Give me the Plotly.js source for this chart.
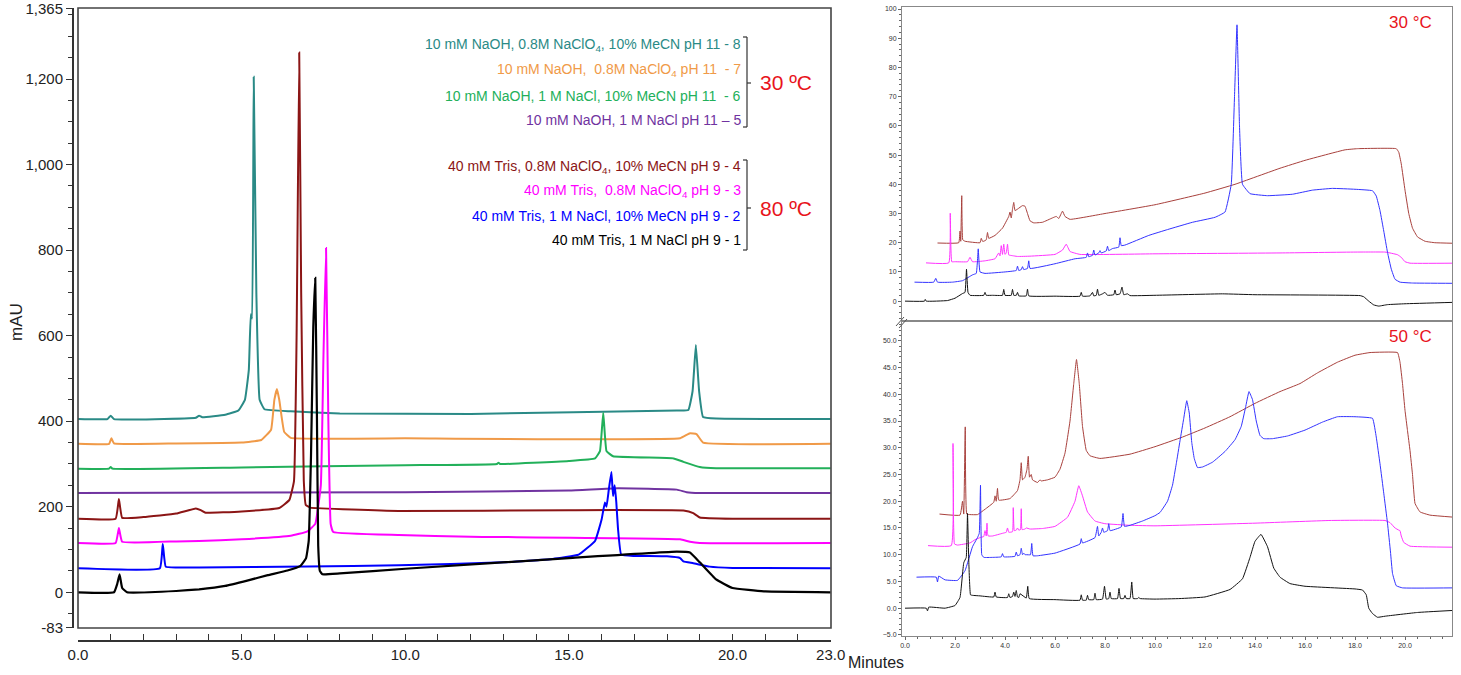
<!DOCTYPE html>
<html><head><meta charset="utf-8">
<script src="https://cdn.plot.ly/plotly-3.0.1.min.js"></script>
<style>html,body{margin:0;padding:0;background:#fff}#chart{width:1461px;height:675px}</style>
</head><body><div id="chart"></div>
<script>
// ---------- LEFT PANEL DATA (Minutes, mAU) ----------
const L1x=[0,1.1,1.2,1.27,1.35,1.5,3.0,3.7,4.5,5.2,5.8,6.4,6.8,6.97,7.05,7.12,7.19,7.25,7.3,7.34,7.39,7.47,8,10,15,18.3,18.7,19.0,19.5,20.0,21,23];
const L1y=[0,0,20,42,10,0,3,7,15,28,40,51,62,80,120,320,620,735,420,110,50,42,44,55,80,95,93,70,30,10,2,0];
const L2x=[0,2.5,2.59,2.68,3.0,3.7,7,9.8,13,14.5,15.3,15.8,16.0,16.1,16.15,16.22,16.3,16.35,16.4,16.45,16.5,16.6,17,18,18.4,18.5,18.8,19.3,20,23];
const L2y=[56,56,113,60,58,58,60,63,70,78,88,120,170,210,200,240,281,225,250,210,150,88,85,84,80,72,68,60,57,56];
const L3x=[0,1.15,1.25,1.35,3,3.7,5,6.5,7.0,7.25,7.42,7.5,7.58,7.65,7.72,7.8,9.8,12,18.4,18.7,19.0,23];
const L3y=[115,115,150,118,119,120,124,132,142,160,250,550,805,400,160,141,134,130,124,118,115,115];
const L4x=[0,1.15,1.25,1.35,2.0,3.0,3.6,3.75,3.9,5.0,6.15,6.46,6.6,6.68,6.76,6.82,6.9,6.96,7.1,9.8,15,18.5,18.8,19.0,20,23];
const L4y=[172,172,218,174,176,184,196,192,186,189,197,216,260,600,1262,700,260,204,198,190,192,191,185,175,172,172];
const L5x=[0,10,15,16.5,18.3,18.6,19,23];
const L5y=[232,234,238,243,240,234,232,232];
const L6x=[0,0.95,1.0,1.05,5,10,12.8,12.85,12.9,15,15.8,15.95,16.05,16.15,16.35,18.2,18.5,19.0,19.5,23];
const L6y=[289,289,293,289,292,297,300,303,300,307,313,330,420,330,318,313,305,293,290,290];
const L7x=[0,0.95,1.02,1.1,3.0,5.0,5.6,5.9,6.0,6.08,6.15,6.3,6.5,10,18.4,18.7,18.9,19.1,23];
const L7y=[347,347,360,348,348,350,356,380,450,475,450,375,361,360,360,372,370,350,347];
const L8x=[0,0.9,1.0,1.1,3.6,3.7,3.8,4.5,4.9,5.1,5.22,5.28,5.32,5.37,5.45,5.55,5.7,6.5,8,12,18.3,18.65,18.78,18.88,18.98,19.1,19.5,23];
const L8y=[405,405,413,405,408,413,409,415,425,450,520,650,640,1205,700,450,428,423,418,417,425,426,470,578,470,410,406,405];

// ---------- RIGHT TOP (30 °C) ----------
const T1x=[0,0.78,0.81,0.85,1.7,2.0,2.3,2.4,2.46,2.52,2.6,3.15,3.2,3.25,3.5,3.9,3.95,4.0,4.25,4.3,4.35,4.45,4.5,4.55,4.85,4.9,4.95,6.0,7.0,7.05,7.1,7.4,7.5,7.55,7.65,7.7,7.75,7.9,8.0,8.1,8.35,8.4,8.45,8.6,8.68,8.75,8.9,9.0,10,12.7,14,18.2,18.35,18.55,18.75,18.95,19.3,20,22];
const T1y=[0,0,0.6,0,0.2,1.0,2.6,3,10.9,3,2.0,2.0,3.0,2.0,2.0,2.0,4.0,2.0,2.0,4.0,2.0,2.0,3.0,1.8,1.8,4.1,1.8,1.7,1.7,3.0,1.7,1.8,3.0,1.8,2.0,4.1,2.0,2.5,3.0,2.0,2.2,3.8,2.2,2.5,4.8,2.2,2.5,1.9,2.0,2.5,2.2,1.9,1.5,0,-1.3,-1.7,-1.2,-0.9,-0.4];
const T2x=[0.38,1.15,1.23,1.3,1.9,2.3,2.7,2.85,2.93,3.0,3.2,4.0,4.45,4.5,4.55,4.65,4.7,4.75,4.9,4.95,5.0,6.0,6.8,7.25,7.3,7.35,7.5,7.55,7.6,7.75,7.8,7.85,8.05,8.1,8.15,8.3,8.55,8.6,8.65,8.8,9.75,10.5,11.5,12.4,12.8,13.05,13.18,13.28,13.38,13.5,13.8,14.5,15.5,16.3,17.1,18.0,18.7,18.85,19.0,19.15,19.3,19.45,19.6,19.8,20.3,22];
const T2y=[6.5,6.5,7.8,6.5,6.5,7.0,9.0,9.5,17.9,10,9.5,10.0,10.5,12,10.5,10.8,11.8,10.8,11.2,13.8,11.2,12.8,14.5,15.0,16.5,15.2,15.7,17.5,15.8,16.5,17.3,16.5,17.2,18.8,17.3,18.0,18.5,21.7,19.0,19.2,22.5,24.5,27.0,28.7,30.5,40,70,94.6,60,40,36.8,36.1,36.6,38.0,38.6,38.3,37.8,36,31,24,16.7,11,7.5,6.5,6.2,6.1];
const T3x=[0.84,1.75,1.81,1.87,2.0,2.5,2.6,2.7,3.2,3.6,3.75,3.8,3.85,3.9,3.95,4.0,4.05,4.1,4.15,4.2,4.5,5.0,6.0,6.3,6.45,6.6,7.0,10,15,18,19.2,19.4,19.7,19.85,20.0,20.2,22];
const T3y=[13.1,13.1,30.1,13.5,13.5,13.5,15.0,13.5,13.8,14.5,16.5,15.5,19.0,16.0,19.5,16.0,16.5,19.5,15.8,15.7,15.3,15.4,16.0,17.5,19.5,17.0,16.0,16.2,16.5,16.8,16.8,16.5,15.9,15.0,13.5,13.0,13.0];
const T4x=[1.3,2.15,2.2,2.23,2.27,2.31,2.4,3.0,3.05,3.1,3.15,3.25,3.3,3.35,3.6,3.9,4.15,4.2,4.25,4.3,4.35,4.4,4.5,4.7,4.8,4.9,5.0,5.15,5.5,5.9,6.05,6.15,6.3,6.4,6.6,8,10,12,13.2,15,16,17,17.6,18.1,19.65,19.75,19.85,20.0,20.15,20.3,20.5,20.8,21.2,22];
const T4y=[19.9,20,24,20.5,36.1,21,20.5,20.0,21.5,20.5,20.5,21,23.5,21.5,22.5,25,29,30.5,28.5,31.5,33.8,31,31.5,32.7,32.5,30,27.5,26.8,27,28.5,29,28.3,30.8,29,28,30,33,37,40,45.5,48.2,50.5,51.8,52.2,52.2,51,47,38,30,25,22,20.5,20,19.8];

// ---------- RIGHT BOTTOM (50 °C) ----------
const B1x=[0,0.85,0.9,0.95,1.6,2.0,2.2,2.35,2.45,2.5,2.55,2.62,2.7,3.0,3.55,3.6,3.65,4.1,4.15,4.2,4.3,4.35,4.4,4.45,4.5,4.55,4.6,4.85,4.91,4.97,6.0,7.0,7.05,7.1,7.25,7.3,7.35,7.55,7.6,7.65,7.9,7.98,8.05,8.15,8.2,8.25,8.5,8.56,8.62,8.75,8.8,8.85,9.0,9.07,9.13,9.3,9.35,9.4,10,11,12,13,13.5,13.8,14.0,14.24,14.5,14.75,15.0,15.4,16,18,18.3,18.45,18.55,18.7,18.9,19.2,20.5,22];
const B1y=[0,0,-0.5,0.2,0,0.5,2,8.5,9.5,17.7,9,2.5,2.4,2.3,2.1,3.0,2.1,2.0,2.7,2.0,2.2,3.0,2.2,3.3,2.1,2.0,2.7,1.9,4.1,1.8,1.6,1.5,2.5,1.5,1.5,2.4,1.6,1.6,2.8,1.6,1.7,4.1,1.7,1.8,3.0,1.8,1.8,3.7,1.8,1.8,2.4,1.8,1.8,4.9,1.8,1.8,2.0,1.8,1.7,1.8,2.1,3.5,5.5,9.5,12.5,13.8,11.5,7.5,5.8,4.6,4.1,3.6,3.4,2.5,0,-1.0,-1.7,-1.5,-0.8,-0.4];
const B2x=[0.46,1.25,1.3,1.35,1.6,2.1,2.4,2.7,2.9,2.97,3.02,3.07,3.15,3.5,3.85,3.9,3.95,4.4,4.45,4.5,4.6,4.65,4.7,4.75,4.8,4.85,5.02,5.07,5.12,5.3,6.0,7.0,7.05,7.1,7.6,7.7,7.75,7.85,7.9,7.95,8.1,8.15,8.2,8.65,8.72,8.78,9.0,9.5,10.0,10.2,10.5,10.7,10.85,11.0,11.15,11.27,11.37,11.47,11.57,11.7,11.9,12.3,12.8,13.2,13.45,13.62,13.76,13.9,14.05,14.2,14.35,14.7,15.3,16.0,16.7,17.3,18.0,18.7,18.85,19.0,19.15,19.3,19.42,19.5,19.65,19.9,22];
const B2y=[5.8,5.8,4.9,6.0,5.3,5.2,7.0,11.5,13.2,14,23,10,9.5,9.5,9.6,10.2,9.6,9.7,10.5,9.8,10.0,11.2,10.0,10.3,10.0,10.0,10.0,12.1,9.8,9.8,10.3,12.0,13,12.2,13.2,15.3,13.5,14.2,15,14.2,14.5,15.8,14.5,15.2,17.7,15.3,15.5,16.3,17.3,17.9,20,23,27,31.3,35.5,38.8,36.5,31,28,26.3,26.4,27.3,29.3,31.5,34,37.5,40.5,39,35,32.3,31.7,31.7,32.2,33.3,34.8,35.8,35.8,35.5,32,27,21.5,15.9,10.5,6.5,4.2,3.8,3.8];
const B3x=[0.92,1.85,1.92,1.98,2.1,2.6,2.8,3.0,3.15,3.2,3.25,3.28,3.3,3.33,3.5,3.9,4.05,4.1,4.15,4.3,4.33,4.37,4.45,4.5,4.55,4.62,4.65,4.68,4.8,4.85,5.0,5.5,6.0,6.5,6.8,6.95,7.1,7.3,7.6,8.0,9,10,14,17,19.2,19.4,19.6,19.75,19.8,19.85,19.95,20.2,22];
const B3y=[11.7,11.7,30.8,12,11.8,12.2,12.8,13.2,13.4,14.5,13.5,15.9,14,13.5,13.5,14,14.2,15,14.2,14.3,18.8,14.5,14.6,15,14.6,14.7,18.6,14.7,14.8,15,14.8,14.9,15.3,17,20,22.9,21,18,16.3,15.8,15.5,15.4,15.9,16.4,16.4,16,15,14.6,14.5,13.5,12.3,11.6,11.4];
const B4x=[1.38,2.2,2.3,2.35,2.41,2.47,2.6,2.9,3.2,3.55,3.6,3.65,3.7,3.75,4.2,4.5,4.6,4.65,4.7,4.8,4.88,4.93,4.98,5.05,5.1,5.3,5.4,5.45,5.7,6.0,6.2,6.4,6.6,6.75,6.86,6.97,7.1,7.25,7.4,7.8,9,10,11.1,12,13,14,15,15.8,16.5,17.3,18,18.6,19.7,19.8,19.9,20.0,20.1,20.2,20.3,20.4,20.6,21.0,22];
const B4y=[17.6,17.4,20,17.6,33.9,17.6,17.5,17.5,18.5,19.8,21,20,22.4,20.2,20.5,22,24,27.2,24,24.5,26,28.4,24.5,25,24,23.5,24,23.8,24,24.5,26,29,35,42,46.5,42,34,29.5,28.5,28,28.8,30.2,32,33.7,35.8,38.3,40.5,42,44,46,47.3,47.8,47.8,46,42,37,33.2,29.5,25,19.6,18,17.4,17.0];

// ---------- LABELS ----------
const legend30=["10 mM NaOH, 0.8M NaClO<sub>4</sub>, 10% MeCN pH 11 - 8","10 mM NaOH,  0.8M NaClO<sub>4</sub> pH 11  - 7","10 mM NaOH, 1 M NaCl, 10% MeCN pH 11  - 6","10 mM NaOH, 1 M NaCl pH 11 \u2013 5"];
const legend80=["40 mM Tris, 0.8M NaClO<sub>4</sub>, 10% MeCN pH 9 - 4","40 mM Tris,  0.8M NaClO<sub>4</sub> pH 9 - 3","40 mM Tris, 1 M NaCl, 10% MeCN pH 9 - 2","40 mM Tris, 1 M NaCl pH 9 - 1"];
const colors30=["#2a8a86","#f09a48","#22b05a","#7033a0"];
const colors80=["#8b1515","#ff00ff","#0000ff","#000000"];
const yTickVals=[-83,0,200,400,600,800,1000,1200,1365];
const yTickText=["-83","0","200","400","600","800","1,000","1,200","1,365"];
const xTickVals=[0,5,10,15,20,23];
const xTickText=["0.0","5.0","10.0","15.0","20.0","23.0"];

// ---------- BUILD ----------
const W=1461,H=675;
const px=x=>x/W, py=y=>1-y/H;
const lt=(x,y,c,w,ax,ay)=>({type:'scatter',mode:'lines',x:x,y:y,xaxis:ax,yaxis:ay,line:{color:c,width:w,shape:'spline',smoothing:0.3},hoverinfo:'skip',showlegend:false});
const traces=[
 lt(L8x,L8y,colors30[0],2,'x','y'), lt(L7x,L7y,colors30[1],2,'x','y'), lt(L6x,L6y,colors30[2],2,'x','y'), lt(L5x,L5y,colors30[3],2,'x','y'),
 lt(L4x,L4y,colors80[0],2,'x','y'), lt(L3x,L3y,colors80[1],2,'x','y'), lt(L2x,L2y,colors80[2],2,'x','y'), lt(L1x,L1y,colors80[3],2.2,'x','y'),
 lt(T4x,T4y,'#a8403c',1,'x2','y2'), lt(T3x,T3y,'#ff33ff',1,'x2','y2'), lt(T2x,T2y,'#3333ff',1,'x2','y2'), lt(T1x,T1y,'#111111',1,'x2','y2'),
 lt(B4x,B4y,'#a8403c',1,'x3','y3'), lt(B3x,B3y,'#ff33ff',1,'x3','y3'), lt(B2x,B2y,'#3333ff',1,'x3','y3'), lt(B1x,B1y,'#111111',1,'x3','y3')
];
const ann=[];
const legY30=[45,70,96,120], legY80=[167,191,216,240];
legend30.forEach((t,i)=>ann.push({xref:'paper',yref:'paper',x:px(743),y:py(legY30[i]),xanchor:'right',yanchor:'middle',text:t,showarrow:false,font:{family:'Liberation Sans, Arial',size:14,color:colors30[i]}}));
legend80.forEach((t,i)=>ann.push({xref:'paper',yref:'paper',x:px(743),y:py(legY80[i]),xanchor:'right',yanchor:'middle',text:t,showarrow:false,font:{family:'Liberation Sans, Arial',size:14,color:colors80[i]}}));
ann.push({xref:'paper',yref:'paper',x:px(758),y:py(83),xanchor:'left',yanchor:'middle',text:'30 ºC',showarrow:false,font:{family:'Liberation Sans, Arial',size:21,color:'#e8141c'}});
ann.push({xref:'paper',yref:'paper',x:px(758),y:py(208),xanchor:'left',yanchor:'middle',text:'80 ºC',showarrow:false,font:{family:'Liberation Sans, Arial',size:21,color:'#e8141c'}});
ann.push({xref:'paper',yref:'paper',x:px(1434),y:py(22),xanchor:'right',yanchor:'middle',text:'30 °C',showarrow:false,font:{family:'Liberation Sans, Arial',size:17,color:'#e8141c'}});
ann.push({xref:'paper',yref:'paper',x:px(1434),y:py(336),xanchor:'right',yanchor:'middle',text:'50 °C',showarrow:false,font:{family:'Liberation Sans, Arial',size:17,color:'#e8141c'}});
ann.push({xref:'paper',yref:'paper',x:px(16),y:py(322),xanchor:'center',yanchor:'middle',text:'mAU',textangle:-90,showarrow:false,font:{family:'Liberation Sans, Arial',size:17,color:'#222'}});
ann.push({xref:'paper',yref:'paper',x:px(846),y:py(662),xanchor:'left',yanchor:'middle',text:'Minutes',showarrow:false,font:{family:'Liberation Sans Narrow, Liberation Sans, Arial',size:16,color:'#222'}});

const line=(x0,y0,x1,y1,c,w)=>({type:'line',xref:'paper',yref:'paper',x0:px(x0),y0:py(y0),x1:px(x1),y1:py(y1),line:{color:c||'#333',width:w||1.2}});
const shapes=[
 {type:'rect',xref:'paper',yref:'paper',x0:px(78),x1:px(831),y0:py(628),y1:py(8),line:{color:'#444',width:1.6}},
 line(747,37,747,127), line(743,37,747,37), line(743,127,747,127), line(747,83,751,83),
 line(747,160,747,250), line(743,160,747,160), line(743,250,747,250), line(747,208,751,208),
 line(896,326,904,317,'#555',1), line(899,328,907,319,'#555',1)
];
const rAx={showgrid:false,zeroline:false,showline:true,mirror:true,linecolor:'#888',linewidth:1,tickfont:{family:'Liberation Sans, Arial',size:7,color:'#333'},ticks:'outside',ticklen:3,tickcolor:'#666',ticklabeloverflow:'allow'};
const layout={
 width:W,height:H,margin:{l:0,r:0,t:0,b:0},paper_bgcolor:'#fff',plot_bgcolor:'rgba(0,0,0,0)',showlegend:false,
 xaxis:{domain:[px(78),px(831)],range:[0,23.01],anchor:'free',position:py(640),showline:true,linecolor:'#333',linewidth:1.5,
   ticks:'inside',ticklen:6,tickcolor:'#333',tickvals:xTickVals,ticktext:xTickText,showgrid:false,zeroline:false,ticklabeloverflow:'allow',
   minor:{dtick:1,tick0:0,ticks:'inside',ticklen:6,tickcolor:'#333'},
   tickfont:{family:'Liberation Sans Narrow, Liberation Sans, Arial',size:15,color:'#222'}},
 yaxis:{domain:[py(628),py(8)],range:[-83.5,1366],anchor:'free',position:px(72),showline:true,linecolor:'#333',linewidth:1.5,
   ticks:'outside',ticklen:6,tickcolor:'#333',tickvals:yTickVals,ticktext:yTickText,showgrid:false,zeroline:false,ticklabeloverflow:'allow',
   minor:{dtick:50,tick0:0,ticks:'outside',ticklen:4,tickcolor:'#333'},
   tickfont:{family:'Liberation Sans, Arial',size:15,color:'#222'}},
 xaxis2:Object.assign({},rAx,{domain:[px(902),px(1452)],range:[-0.12,21.88],anchor:'y2',showticklabels:false,ticks:''}),
 yaxis2:Object.assign({},rAx,{domain:[py(321),py(7)],range:[-6.8,100.7],anchor:'x2',tickmode:'linear',tick0:0,dtick:10,
   minor:{dtick:2,tick0:0,ticks:'outside',ticklen:2,tickcolor:'#666'}}),
 xaxis3:Object.assign({},rAx,{domain:[px(902),px(1452)],range:[-0.12,21.88],anchor:'y3',tickmode:'linear',tick0:0,dtick:2,tickformat:'.1f',
   minor:{dtick:0.5,tick0:0,ticks:'outside',ticklen:2,tickcolor:'#666'}}),
 yaxis3:Object.assign({},rAx,{domain:[py(636),py(321)],range:[-5.2,53.7],anchor:'x3',tickmode:'linear',tick0:0,dtick:5,tickformat:'.1f',
   minor:{dtick:1,tick0:0,ticks:'outside',ticklen:2,tickcolor:'#666'}}),
 annotations:ann,shapes:shapes
};
Plotly.newPlot('chart',traces,layout,{displayModeBar:false,staticPlot:true});
</script></body></html>
